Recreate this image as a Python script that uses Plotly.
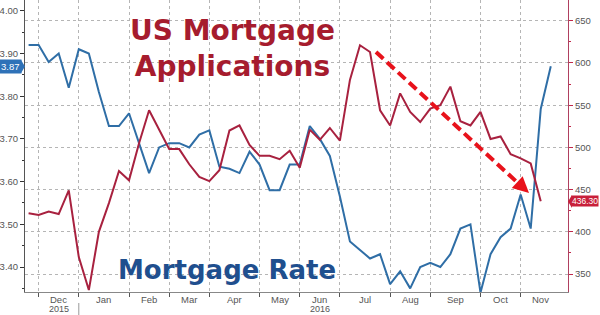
import math
import pandas as pd
import plotly.graph_objects as go

# ---- data ----
start_date = "2015-11-27"
rate_values = [3.92, 3.92, 3.88, 3.90, 3.82, 3.91, 3.90, 3.81, 3.73, 3.73,
               3.76, 3.69, 3.62, 3.68, 3.69, 3.69, 3.68, 3.71, 3.72, 3.635,
               3.63, 3.62, 3.67, 3.64, 3.58, 3.58, 3.64, 3.64, 3.73, 3.70,
               3.66, 3.565, 3.46, 3.44, 3.42, 3.43, 3.36, 3.39, 3.35, 3.40,
               3.41, 3.40, 3.43, 3.49, 3.50, 3.34, 3.43, 3.47, 3.49, 3.57,
               3.49, 3.77, 3.87]
apps_values = [422, 420, 424, 421, 449, 370, 331, 400, 434, 472,
               461, 505, 544, 520, 498, 498, 480, 465, 460, 473,
               520, 526, 503, 490, 490, 486, 496, 476, 521, 509,
               523, 508, 580, 621, 613, 544, 526, 564, 542, 530,
               546, 550, 572, 531, 526, 542, 510, 513, 492, 487,
               481, 436.3]
month_ticks = ["2015-12-04", "2016-01-01", "2016-02-05", "2016-03-04", "2016-04-01",
               "2016-05-06", "2016-06-03", "2016-07-01", "2016-08-05", "2016-09-02",
               "2016-10-07", "2016-11-04", "2016-12-02"]
month_labels = ["Dec", "Jan", "Feb", "Mar", "Apr", "May", "Jun", "Jul", "Aug", "Sep", "Oct", "Nov"]
year_labels = {"Dec": "2015", "Jun": "2016"}
left_ticks = [3.40, 3.50, 3.60, 3.70, 3.80, 3.90, 4.00]
right_ticks = [350, 400, 450, 500, 550, 600, 650]

rate_dates = pd.date_range(start_date, periods=len(rate_values), freq="7D")
apps_dates = pd.date_range(start_date, periods=len(apps_values), freq="7D")

BLUE = "#2f6ea6"
RED = "#a8213f"
TXT = "#555555"
FONT = "DejaVu Sans"
TICKFONT = "Liberation Sans"

fig = go.Figure()
fig.add_trace(go.Scatter(x=rate_dates, y=rate_values, mode="lines",
                         line=dict(color=BLUE, width=2), yaxis="y"))
fig.add_trace(go.Scatter(x=apps_dates, y=apps_values, mode="lines",
                         line=dict(color=RED, width=2), yaxis="y2"))

W, H = 600, 315
ml, mr, mt, mb = 25, 32, 0, 23
pw, ph = W - ml - mr, H - mt - mb

def px(xp):
    return (xp - ml) / pw

def py(yp):
    return 1 - (yp - mt) / ph

annotations = []
tick_ts = [pd.Timestamp(t) for t in month_ticks]
for i, lab in enumerate(month_labels):
    mid = tick_ts[i] + (tick_ts[i + 1] - tick_ts[i]) / 2
    annotations.append(dict(x=mid, y=0, xref="x", yref="paper", text=lab,
                            showarrow=False, yanchor="top", yshift=-1, borderpad=0,
                            font=dict(family=TICKFONT, size=9.5, color=TXT)))
    if lab in year_labels:
        annotations.append(dict(x=mid, y=0, xref="x", yref="paper", text=year_labels[lab],
                                showarrow=False, yanchor="top", yshift=-11, borderpad=0,
                                font=dict(family=TICKFONT, size=9, color=TXT)))

# titles
annotations.append(dict(x=px(232), y=py(48), xref="paper", yref="paper",
                        text="<b>US Mortgage<br>Applications</b>", showarrow=False,
                        xanchor="center", yanchor="middle",
                        font=dict(family=FONT, size=28, color="#a61c2e")))
annotations.append(dict(x=px(227), y=py(270), xref="paper", yref="paper",
                        text="<b>Mortgage Rate</b>", showarrow=False,
                        xanchor="center", yanchor="middle",
                        font=dict(family=FONT, size=26, color="#1f4f8e")))

# last value badges
annotations.append(dict(x=0, y=rate_values[-1], xref="paper", yref="y",
                        text="3.87", showarrow=False, xanchor="right", xshift=-3,
                        bgcolor="#2f72b8", borderpad=1,
                        font=dict(family=TICKFONT, size=9.5, color="white")))
annotations.append(dict(x=1, y=apps_values[-1], xref="paper", yref="y2",
                        text="436.30", showarrow=False, xanchor="left", xshift=3,
                        bgcolor="#c8203a", borderpad=0,
                        font=dict(family=TICKFONT, size=8.5, color="white")))

shapes = []
# year divider
shapes.append(dict(type="line", xref="x", yref="paper", x0="2016-01-01", x1="2016-01-01",
                   y0=py(303), y1=py(315), line=dict(color="#999999", width=1)))
# dashed arrow
x0p, y0p, x1p, y1p = 376, 52, 519, 184
tipx, tipy = 529, 193
shapes.append(dict(type="line", xref="paper", yref="paper",
                   x0=px(x0p), y0=py(y0p), x1=px(x1p), y1=py(y1p),
                   line=dict(color="#e8121b", width=4, dash="10px,5px")))
dx, dy = tipx - x0p, tipy - y0p
L = math.hypot(dx, dy)
ux, uy = dx / L, dy / L
hl, hw = 16, 8
bx, by = tipx - ux * hl, tipy - uy * hl
p1 = (bx - uy * hw, by + ux * hw)
p2 = (bx + uy * hw, by - ux * hw)
path = "M {} {} L {} {} L {} {} Z".format(px(tipx), py(tipy), px(p1[0]), py(p1[1]),
                                          px(p2[0]), py(p2[1]))
shapes.append(dict(type="path", xref="paper", yref="paper", path=path,
                   fillcolor="#e8121b", line=dict(width=0)))
# badge pointers
shapes.append(dict(type="path", xref="paper", yref="paper",
                   path="M {} {} L {} {} L {} {} Z".format(px(21), py(60), px(25), py(66.5), px(21), py(73)),
                   fillcolor="#2f72b8", line=dict(width=0)))
shapes.append(dict(type="path", xref="paper", yref="paper",
                   path="M {} {} L {} {} L {} {} Z".format(px(572), py(195), px(568), py(201.5), px(572), py(208)),
                   fillcolor="#c8203a", line=dict(width=0)))

fig.update_layout(
    width=W, height=H, margin=dict(l=ml, r=mr, t=mt, b=mb),
    paper_bgcolor="white", plot_bgcolor="white", showlegend=False,
    font=dict(family=TICKFONT, size=9.5, color=TXT),
    xaxis=dict(type="date", range=["2015-11-24 12:00", "2016-12-07"],
               tickmode="array", tickvals=month_ticks[:-1], showticklabels=False,
               ticks="outside", ticklen=4, tickcolor="#555555",
               showline=True, linecolor="#888888", linewidth=1,
               showgrid=True, gridcolor="#b5b5b5", griddash="dot", zeroline=False),
    yaxis=dict(range=[3.3415, 4.0253], tickmode="array", tickvals=left_ticks,
               tickformat=".2f", ticks="outside", ticklen=4, tickcolor="#333333",
               showline=True, linecolor="#555555", linewidth=1, showgrid=False,
               zeroline=False, tickfont=dict(family=TICKFONT, size=9.5, color=TXT),
               minor=dict(dtick=0.05, tick0=0, ticklen=2, tickcolor="#333333", ticks="outside")),
    yaxis2=dict(range=[328.7, 674.6], overlaying="y", side="right",
                tickmode="array", tickvals=right_ticks,
                ticks="outside", ticklen=4, tickcolor="#c0284a",
                showline=True, linecolor="#b04060", linewidth=1,
                showgrid=True, gridcolor="#b5b5b5", griddash="dot", zeroline=False,
                tickfont=dict(family=TICKFONT, size=9.5, color=TXT),
                minor=dict(dtick=25, tick0=0, ticklen=2, tickcolor="#c0284a", ticks="outside")),
    annotations=annotations, shapes=shapes,
)
fig.write_html("out.html")
